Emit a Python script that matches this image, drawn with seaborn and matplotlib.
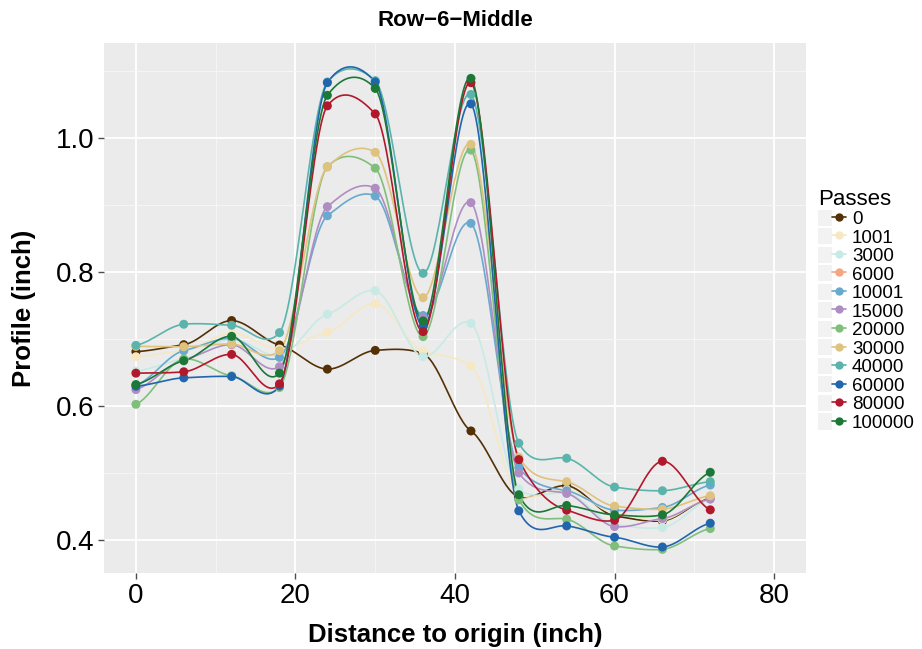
import numpy as np
import pandas as pd
import matplotlib
matplotlib.use("Agg")
import matplotlib.pyplot as plt
import seaborn as sns
from matplotlib.lines import Line2D
from matplotlib.patches import Patch
from matplotlib.legend_handler import HandlerTuple

distance = [0, 6, 12, 18, 24, 30, 36, 42, 48, 54, 60, 66, 72]
passes = ["0", "1001", "3000", "6000", "10001", "15000", "20000",
          "30000", "40000", "60000", "80000", "100000"]

p0      = [0.681, 0.6915, 0.7275, 0.691, 0.655, 0.683, 0.678, 0.5627, 0.4645, 0.481, 0.436, 0.4285, 0.4635]
p1001   = [0.6735, 0.683, 0.7085, 0.685, 0.710, 0.7527, 0.682, 0.6597, 0.4685, 0.475, 0.440, 0.430, 0.465]
p3000   = [0.652, 0.670, 0.700, 0.675, 0.737, 0.772, 0.6736, 0.7234, 0.476, 0.470, 0.4235, 0.4185, 0.461]
p6000   = [np.nan] * 13
p10001  = [0.631, 0.6825, 0.701, 0.6725, 0.884, 0.9134, 0.735, 0.8726, 0.508, 0.4735, 0.4445, 0.4485, 0.482]
p15000  = [0.6245, 0.669, 0.6915, 0.6585, 0.8975, 0.925, 0.731, 0.9035, 0.500, 0.4695, 0.420, 0.432, 0.461]
p20000  = [0.6025, 0.670, 0.645, 0.6275, 0.957, 0.955, 0.7035, 0.982, 0.460, 0.431, 0.391, 0.386, 0.417]
p30000  = [0.689, 0.6885, 0.6925, 0.6825, 0.957, 0.9786, 0.7617, 0.9905, 0.5235, 0.487, 0.4505, 0.446, 0.466]
p40000  = [0.6905, 0.722, 0.7205, 0.7095, 1.0836, 1.0856, 0.798, 1.065, 0.5445, 0.522, 0.479, 0.4735, 0.487]
p60000  = [0.6295, 0.642, 0.644, 0.630, 1.0826, 1.0836, 0.7184, 1.051, 0.4435, 0.421, 0.404, 0.3895, 0.425]
p80000  = [0.649, 0.651, 0.677, 0.633, 1.048, 1.036, 0.711, 1.0826, 0.520, 0.4445, 0.4295, 0.5175, 0.445]
p100000 = [0.632, 0.6675, 0.704, 0.649, 1.0637, 1.074, 0.727, 1.089, 0.4675, 0.4515, 0.4375, 0.4375, 0.501]

series = [p0, p1001, p3000, p6000, p10001, p15000, p20000,
          p30000, p40000, p60000, p80000, p100000]
colors = ["#543005", "#f6e8c3", "#c7eae5", "#f4a582", "#67a9cf", "#af8dc3",
          "#7fbf7b", "#dfc27d", "#5ab4ac", "#2166ac", "#b2182b", "#1b7837"]

rows = []
for name, vals in zip(passes, series):
    for d, v in zip(distance, vals):
        rows.append({"Distance": d, "Profile": v, "Passes": name})
df = pd.DataFrame(rows)


def smooth_curve(x, y, tension=0.45, n=30):
    x = np.asarray(x, float)
    y = np.asarray(y, float)
    m = np.empty_like(y)
    m[1:-1] = (y[2:] - y[:-2]) / (x[2:] - x[:-2])
    m[0] = (y[1] - y[0]) / (x[1] - x[0])
    m[-1] = (y[-1] - y[-2]) / (x[-1] - x[-2])
    m = m * tension
    xs, ys = [], []
    for i in range(len(x) - 1):
        h = x[i + 1] - x[i]
        t = np.linspace(0, 1, n, endpoint=False)
        h00 = 2 * t**3 - 3 * t**2 + 1
        h10 = t**3 - 2 * t**2 + t
        h01 = -2 * t**3 + 3 * t**2
        h11 = t**3 - t**2
        xs.append(x[i] + t * h)
        ys.append(h00 * y[i] + h10 * h * m[i] + h01 * y[i + 1] + h11 * h * m[i + 1])
    xs.append([x[-1]])
    ys.append([y[-1]])
    return np.concatenate(xs), np.concatenate(ys)


curve_rows = []
for name in passes:
    sub = df[df["Passes"] == name].dropna()
    if len(sub) < 2:
        continue
    cx, cy = smooth_curve(sub["Distance"].values, sub["Profile"].values)
    for a, b in zip(cx, cy):
        curve_rows.append({"Distance": a, "Profile": b, "Passes": name})
curves = pd.DataFrame(curve_rows)

palette = dict(zip(passes, colors))

sns.set_theme(style="darkgrid")
plt.rcParams["font.family"] = ["Liberation Sans", "DejaVu Sans"]
plt.rcParams["text.color"] = "black"
plt.rcParams["axes.labelcolor"] = "black"

fig = plt.figure(figsize=(9.22, 6.49), dpi=100)
ax = fig.add_axes([104 / 922, 1 - 573 / 649, (806 - 104) / 922, (573 - 43) / 649])
ax.set_facecolor("#EBEBEB")

for name in passes:
    c = curves[curves["Passes"] == name]
    if len(c):
        sns.lineplot(data=c, x="Distance", y="Profile", color=palette[name],
                     lw=1.2, ax=ax, legend=False, sort=False, estimator=None, zorder=3)
    p = df[df["Passes"] == name].dropna()
    if len(p):
        sns.scatterplot(data=p, x="Distance", y="Profile", color=palette[name],
                        s=42, edgecolor="none", ax=ax, legend=False, zorder=4)

ax.set_xlim(-4, 84)
ax.set_ylim(0.3507, 1.1418)
ax.set_xticks([0, 20, 40, 60, 80])
ax.set_yticks([0.4, 0.6, 0.8, 1.0])
ax.set_yticklabels(["0.4", "0.6", "0.8", "1.0"])
ax.set_xticks([10, 30, 50, 70], minor=True)
ax.set_yticks([0.5, 0.7, 0.9, 1.1], minor=True)
ax.grid(which="major", color="white", lw=1.3)
ax.grid(which="minor", color="#F7F7F7", lw=0.6)
ax.set_axisbelow(True)
for s in ax.spines.values():
    s.set_visible(False)
ax.tick_params(axis="both", which="major", length=4, width=1, color="#4d4d4d",
               labelsize=20, labelcolor="black", pad=3, direction="out")
ax.tick_params(axis="both", which="minor", length=0)
ax.xaxis.set_ticks_position("bottom")
ax.yaxis.set_ticks_position("left")

ax.set_xlabel("Distance to origin (inch)", fontsize=18.5, fontweight="bold",
              labelpad=10, color="black")
ax.set_ylabel("Profile (inch)", fontsize=18.5, fontweight="bold",
              labelpad=14, color="black")
ax.set_title("Row\u22126\u2212Middle", fontsize=16, fontweight="bold", pad=12,
             color="black")

handles = []
for name in passes:
    handles.append((Patch(facecolor="#F2F2F2", edgecolor="none"),
                    Line2D([], [], color=palette[name], lw=1.2, marker="o",
                           markersize=6, markeredgecolor="none")))
leg = fig.legend(handles, passes, title="Passes",
                 handler_map={tuple: HandlerTuple(ndivide=None, pad=0)},
                 loc="center left", bbox_to_anchor=(0.887, 0.522),
                 frameon=False, fontsize=13.5, title_fontsize=16,
                 labelspacing=0.0, handlelength=1.5, handleheight=0.95,
                 handletextpad=0.32, borderaxespad=0, borderpad=0)
leg._legend_box.align = "left"
for t in leg.get_texts():
    t.set_color("black")
leg.get_title().set_color("black")

fig.savefig("out.png", dpi=100)
